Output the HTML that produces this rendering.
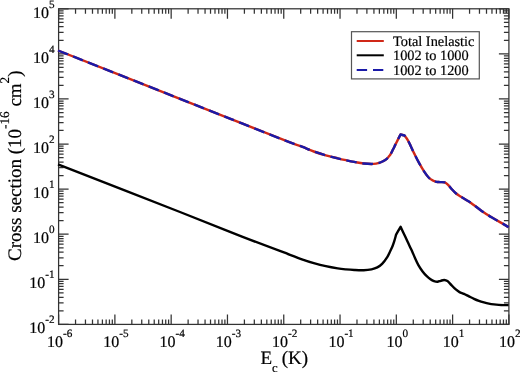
<!DOCTYPE html>
<html><head><meta charset="utf-8"><style>
html,body{margin:0;padding:0;background:#fff;}
svg{display:block;filter:blur(0.3px);}
text{font-family:"Liberation Serif",serif;fill:#000;stroke:#000;stroke-width:0.2px;text-rendering:geometricPrecision;}
</style></head><body>
<svg width="520" height="372" viewBox="0 0 520 372">
<rect x="0" y="0" width="520" height="372" fill="#fff"/>
<g font-size="16">
<text x="59.6" y="346.8" text-anchor="middle">10<tspan font-size="11.2" dy="-10">-6</tspan></text>
<text x="115.89" y="346.8" text-anchor="middle">10<tspan font-size="11.2" dy="-10">-5</tspan></text>
<text x="172.17" y="346.8" text-anchor="middle">10<tspan font-size="11.2" dy="-10">-4</tspan></text>
<text x="228.46" y="346.8" text-anchor="middle">10<tspan font-size="11.2" dy="-10">-3</tspan></text>
<text x="284.75" y="346.8" text-anchor="middle">10<tspan font-size="11.2" dy="-10">-2</tspan></text>
<text x="341.04" y="346.8" text-anchor="middle">10<tspan font-size="11.2" dy="-10">-1</tspan></text>
<text x="397.32" y="346.8" text-anchor="middle">10<tspan font-size="11.2" dy="-10">0</tspan></text>
<text x="453.61" y="346.8" text-anchor="middle">10<tspan font-size="11.2" dy="-10">1</tspan></text>
<text x="509.9" y="346.8" text-anchor="middle">10<tspan font-size="11.2" dy="-10">2</tspan></text>
<text x="54.7" y="332.9" text-anchor="end">10<tspan font-size="11.2" dy="-10">-2</tspan></text>
<text x="54.7" y="287.9" text-anchor="end">10<tspan font-size="11.2" dy="-10">-1</tspan></text>
<text x="54.7" y="242.9" text-anchor="end">10<tspan font-size="11.2" dy="-10">0</tspan></text>
<text x="54.7" y="197.9" text-anchor="end">10<tspan font-size="11.2" dy="-10">1</tspan></text>
<text x="54.7" y="152.9" text-anchor="end">10<tspan font-size="11.2" dy="-10">2</tspan></text>
<text x="54.7" y="107.9" text-anchor="end">10<tspan font-size="11.2" dy="-10">3</tspan></text>
<text x="54.7" y="62.9" text-anchor="end">10<tspan font-size="11.2" dy="-10">4</tspan></text>
<text x="54.7" y="17.9" text-anchor="end">10<tspan font-size="11.2" dy="-10">5</tspan></text>
</g>
<text x="260.5" y="364.2" font-size="19">E<tspan font-size="12.7" dy="7.3">c</tspan><tspan dy="-7.3" dx="-0.8"> (K)</tspan></text>
<text transform="translate(20.5,260.9) rotate(-90)" font-size="19">Cross section (10<tspan font-size="13.2" dy="-12">-16</tspan><tspan dy="12"> cm</tspan><tspan font-size="13.2" dy="-12">2</tspan><tspan dy="12">)</tspan></text>
<g stroke="#333" stroke-width="1.25" fill="none">
<rect x="58.6" y="8.8" width="450.3" height="315.6"/>
<path d="M58.6,8.8 v10 M58.6,324.4 v-10 M75.54,8.8 v5 M75.54,324.4 v-5 M85.46,8.8 v5 M85.46,324.4 v-5 M92.49,8.8 v5 M92.49,324.4 v-5 M97.94,8.8 v5 M97.94,324.4 v-5 M102.4,8.8 v5 M102.4,324.4 v-5 M106.17,8.8 v5 M106.17,324.4 v-5 M109.43,8.8 v5 M109.43,324.4 v-5 M112.31,8.8 v5 M112.31,324.4 v-5 M114.89,8.8 v10 M114.89,324.4 v-10 M131.83,8.8 v5 M131.83,324.4 v-5 M141.74,8.8 v5 M141.74,324.4 v-5 M148.78,8.8 v5 M148.78,324.4 v-5 M154.23,8.8 v5 M154.23,324.4 v-5 M158.69,8.8 v5 M158.69,324.4 v-5 M162.46,8.8 v5 M162.46,324.4 v-5 M165.72,8.8 v5 M165.72,324.4 v-5 M168.6,8.8 v5 M168.6,324.4 v-5 M171.17,8.8 v10 M171.17,324.4 v-10 M188.12,8.8 v5 M188.12,324.4 v-5 M198.03,8.8 v5 M198.03,324.4 v-5 M205.06,8.8 v5 M205.06,324.4 v-5 M210.52,8.8 v5 M210.52,324.4 v-5 M214.98,8.8 v5 M214.98,324.4 v-5 M218.74,8.8 v5 M218.74,324.4 v-5 M222.01,8.8 v5 M222.01,324.4 v-5 M224.89,8.8 v5 M224.89,324.4 v-5 M227.46,8.8 v10 M227.46,324.4 v-10 M244.41,8.8 v5 M244.41,324.4 v-5 M254.32,8.8 v5 M254.32,324.4 v-5 M261.35,8.8 v5 M261.35,324.4 v-5 M266.81,8.8 v5 M266.81,324.4 v-5 M271.26,8.8 v5 M271.26,324.4 v-5 M275.03,8.8 v5 M275.03,324.4 v-5 M278.3,8.8 v5 M278.3,324.4 v-5 M281.17,8.8 v5 M281.17,324.4 v-5 M283.75,8.8 v10 M283.75,324.4 v-10 M300.69,8.8 v5 M300.69,324.4 v-5 M310.61,8.8 v5 M310.61,324.4 v-5 M317.64,8.8 v5 M317.64,324.4 v-5 M323.09,8.8 v5 M323.09,324.4 v-5 M327.55,8.8 v5 M327.55,324.4 v-5 M331.32,8.8 v5 M331.32,324.4 v-5 M334.58,8.8 v5 M334.58,324.4 v-5 M337.46,8.8 v5 M337.46,324.4 v-5 M340.04,8.8 v10 M340.04,324.4 v-10 M356.98,8.8 v5 M356.98,324.4 v-5 M366.89,8.8 v5 M366.89,324.4 v-5 M373.93,8.8 v5 M373.93,324.4 v-5 M379.38,8.8 v5 M379.38,324.4 v-5 M383.84,8.8 v5 M383.84,324.4 v-5 M387.61,8.8 v5 M387.61,324.4 v-5 M390.87,8.8 v5 M390.87,324.4 v-5 M393.75,8.8 v5 M393.75,324.4 v-5 M396.32,8.8 v10 M396.32,324.4 v-10 M413.27,8.8 v5 M413.27,324.4 v-5 M423.18,8.8 v5 M423.18,324.4 v-5 M430.21,8.8 v5 M430.21,324.4 v-5 M435.67,8.8 v5 M435.67,324.4 v-5 M440.13,8.8 v5 M440.13,324.4 v-5 M443.89,8.8 v5 M443.89,324.4 v-5 M447.16,8.8 v5 M447.16,324.4 v-5 M450.04,8.8 v5 M450.04,324.4 v-5 M452.61,8.8 v10 M452.61,324.4 v-10 M469.56,8.8 v5 M469.56,324.4 v-5 M479.47,8.8 v5 M479.47,324.4 v-5 M486.5,8.8 v5 M486.5,324.4 v-5 M491.96,8.8 v5 M491.96,324.4 v-5 M496.41,8.8 v5 M496.41,324.4 v-5 M500.18,8.8 v5 M500.18,324.4 v-5 M503.45,8.8 v5 M503.45,324.4 v-5 M506.32,8.8 v5 M506.32,324.4 v-5 M508.9,8.8 v10 M508.9,324.4 v-10 M58.6,324.4 h10 M508.9,324.4 h-10 M58.6,310.83 h5 M508.9,310.83 h-5 M58.6,302.89 h5 M508.9,302.89 h-5 M58.6,297.26 h5 M508.9,297.26 h-5 M58.6,292.89 h5 M508.9,292.89 h-5 M58.6,289.32 h5 M508.9,289.32 h-5 M58.6,286.3 h5 M508.9,286.3 h-5 M58.6,283.68 h5 M508.9,283.68 h-5 M58.6,281.38 h5 M508.9,281.38 h-5 M58.6,279.31 h10 M508.9,279.31 h-10 M58.6,265.74 h5 M508.9,265.74 h-5 M58.6,257.8 h5 M508.9,257.8 h-5 M58.6,252.17 h5 M508.9,252.17 h-5 M58.6,247.8 h5 M508.9,247.8 h-5 M58.6,244.23 h5 M508.9,244.23 h-5 M58.6,241.21 h5 M508.9,241.21 h-5 M58.6,238.6 h5 M508.9,238.6 h-5 M58.6,236.29 h5 M508.9,236.29 h-5 M58.6,234.23 h10 M508.9,234.23 h-10 M58.6,220.66 h5 M508.9,220.66 h-5 M58.6,212.72 h5 M508.9,212.72 h-5 M58.6,207.08 h5 M508.9,207.08 h-5 M58.6,202.72 h5 M508.9,202.72 h-5 M58.6,199.15 h5 M508.9,199.15 h-5 M58.6,196.13 h5 M508.9,196.13 h-5 M58.6,193.51 h5 M508.9,193.51 h-5 M58.6,191.21 h5 M508.9,191.21 h-5 M58.6,189.14 h10 M508.9,189.14 h-10 M58.6,175.57 h5 M508.9,175.57 h-5 M58.6,167.63 h5 M508.9,167.63 h-5 M58.6,162 h5 M508.9,162 h-5 M58.6,157.63 h5 M508.9,157.63 h-5 M58.6,154.06 h5 M508.9,154.06 h-5 M58.6,151.04 h5 M508.9,151.04 h-5 M58.6,148.43 h5 M508.9,148.43 h-5 M58.6,146.12 h5 M508.9,146.12 h-5 M58.6,144.06 h10 M508.9,144.06 h-10 M58.6,130.48 h5 M508.9,130.48 h-5 M58.6,122.55 h5 M508.9,122.55 h-5 M58.6,116.91 h5 M508.9,116.91 h-5 M58.6,112.54 h5 M508.9,112.54 h-5 M58.6,108.97 h5 M508.9,108.97 h-5 M58.6,105.96 h5 M508.9,105.96 h-5 M58.6,103.34 h5 M508.9,103.34 h-5 M58.6,101.03 h5 M508.9,101.03 h-5 M58.6,98.97 h10 M508.9,98.97 h-10 M58.6,85.4 h5 M508.9,85.4 h-5 M58.6,77.46 h5 M508.9,77.46 h-5 M58.6,71.83 h5 M508.9,71.83 h-5 M58.6,67.46 h5 M508.9,67.46 h-5 M58.6,63.89 h5 M508.9,63.89 h-5 M58.6,60.87 h5 M508.9,60.87 h-5 M58.6,58.25 h5 M508.9,58.25 h-5 M58.6,55.95 h5 M508.9,55.95 h-5 M58.6,53.89 h10 M508.9,53.89 h-10 M58.6,40.31 h5 M508.9,40.31 h-5 M58.6,32.37 h5 M508.9,32.37 h-5 M58.6,26.74 h5 M508.9,26.74 h-5 M58.6,22.37 h5 M508.9,22.37 h-5 M58.6,18.8 h5 M508.9,18.8 h-5 M58.6,15.78 h5 M508.9,15.78 h-5 M58.6,13.17 h5 M508.9,13.17 h-5 M58.6,10.86 h5 M508.9,10.86 h-5 M58.6,8.8 h10 M508.9,8.8 h-10"/>
</g>
<path d="M58,50.5 C78.33,58.55 149.33,86.65 180,98.8 C210.67,110.95 223.67,116.13 242,123.4 C260.33,130.67 280.02,138.52 290,142.4 C299.98,146.28 297.93,145.18 301.9,146.7 C305.87,148.22 309.82,150.07 313.8,151.5 C317.78,152.93 321.82,154.17 325.8,155.3 C329.78,156.43 334.33,157.48 337.7,158.3 C341.07,159.12 343.25,159.6 346,160.2 C348.75,160.8 351.23,161.35 354.2,161.9 C357.17,162.45 360.58,163.17 363.8,163.5 C367.02,163.83 370.93,164 373.5,163.9 C376.07,163.8 377.6,163.35 379.2,162.9 C380.8,162.45 381.83,161.88 383.1,161.2 C384.37,160.52 385.82,159.62 386.8,158.8 C387.78,157.98 388.37,157.07 389,156.3 C389.63,155.53 389.92,155.37 390.6,154.2 C391.28,153.03 392.28,150.93 393.1,149.3 C393.92,147.67 394.7,146.02 395.5,144.4 C396.3,142.78 397.07,141.25 397.9,139.6 C398.73,137.95 400.07,135.35 400.5,134.5 C401.17,134.67 403.83,135.33 404.5,135.5 C405.02,136.22 406.55,138 407.6,139.8 C408.65,141.6 409.67,143.95 410.8,146.3 C411.93,148.65 413.05,151.17 414.4,153.9 C415.75,156.63 417.27,159.75 418.9,162.7 C420.53,165.65 422.5,169.05 424.2,171.6 C425.9,174.15 427.57,176.48 429.1,178 C430.63,179.52 432.17,180.07 433.4,180.7 C434.63,181.33 435.4,181.57 436.5,181.8 C437.6,182.03 438.63,182 440,182.1 C441.37,182.2 443.35,181.95 444.7,182.4 C446.05,182.85 446.87,183.62 448.1,184.8 C449.33,185.98 450.77,188.05 452.1,189.5 C453.43,190.95 454.77,192.38 456.1,193.5 C457.43,194.62 458.53,195.2 460.1,196.2 C461.67,197.2 463.68,198.38 465.5,199.5 C467.32,200.62 468.42,201.08 471,202.9 C473.58,204.72 477.5,207.95 481,210.4 C484.5,212.85 488.32,215.35 492,217.6 C495.68,219.85 500.33,222.3 503.1,223.9 C505.87,225.5 507.68,226.65 508.6,227.2" fill="none" stroke="#d02818" stroke-width="2.4" stroke-linejoin="round"/>
<path d="M58,50.5 C78.33,58.55 149.33,86.65 180,98.8 C210.67,110.95 223.67,116.13 242,123.4 C260.33,130.67 280.02,138.52 290,142.4 C299.98,146.28 297.93,145.18 301.9,146.7 C305.87,148.22 309.82,150.07 313.8,151.5 C317.78,152.93 321.82,154.17 325.8,155.3 C329.78,156.43 334.33,157.48 337.7,158.3 C341.07,159.12 343.25,159.6 346,160.2 C348.75,160.8 351.23,161.35 354.2,161.9 C357.17,162.45 360.58,163.17 363.8,163.5 C367.02,163.83 370.93,164 373.5,163.9 C376.07,163.8 377.6,163.35 379.2,162.9 C380.8,162.45 381.83,161.88 383.1,161.2 C384.37,160.52 385.82,159.62 386.8,158.8 C387.78,157.98 388.37,157.07 389,156.3 C389.63,155.53 389.92,155.37 390.6,154.2 C391.28,153.03 392.28,150.93 393.1,149.3 C393.92,147.67 394.7,146.02 395.5,144.4 C396.3,142.78 397.07,141.25 397.9,139.6 C398.73,137.95 400.07,135.35 400.5,134.5 C401.17,134.67 403.83,135.33 404.5,135.5 C405.02,136.22 406.55,138 407.6,139.8 C408.65,141.6 409.67,143.95 410.8,146.3 C411.93,148.65 413.05,151.17 414.4,153.9 C415.75,156.63 417.27,159.75 418.9,162.7 C420.53,165.65 422.5,169.05 424.2,171.6 C425.9,174.15 427.57,176.48 429.1,178 C430.63,179.52 432.17,180.07 433.4,180.7 C434.63,181.33 435.4,181.57 436.5,181.8 C437.6,182.03 438.63,182 440,182.1 C441.37,182.2 443.35,181.95 444.7,182.4 C446.05,182.85 446.87,183.62 448.1,184.8 C449.33,185.98 450.77,188.05 452.1,189.5 C453.43,190.95 454.77,192.38 456.1,193.5 C457.43,194.62 458.53,195.2 460.1,196.2 C461.67,197.2 463.68,198.38 465.5,199.5 C467.32,200.62 468.42,201.08 471,202.9 C473.58,204.72 477.5,207.95 481,210.4 C484.5,212.85 488.32,215.35 492,217.6 C495.68,219.85 500.33,222.3 503.1,223.9 C505.87,225.5 507.68,226.65 508.6,227.2" fill="none" stroke="#1a1aa8" stroke-width="2.4" stroke-dasharray="10.6 5.65" stroke-linejoin="round"/>
<path d="M58,164.3 C78.33,172.25 149.33,199.95 180,212 C210.67,224.05 223.67,229.47 242,236.6 C260.33,243.73 280.02,251.02 290,254.8 C299.98,258.58 297.93,257.92 301.9,259.3 C305.87,260.68 309.82,261.95 313.8,263.1 C317.78,264.25 321.82,265.32 325.8,266.2 C329.78,267.08 334.33,267.87 337.7,268.4 C341.07,268.93 343.25,269.13 346,269.4 C348.75,269.67 351.23,269.87 354.2,270 C357.17,270.13 360.92,270.32 363.8,270.2 C366.68,270.08 369.25,269.77 371.5,269.3 C373.75,268.83 375.53,268.3 377.3,267.4 C379.07,266.5 380.42,265.67 382.1,263.9 C383.78,262.13 386.03,258.95 387.4,256.8 C388.77,254.65 389.45,252.77 390.3,251 C391.15,249.23 391.85,247.8 392.5,246.2 C393.15,244.6 393.6,243.33 394.2,241.4 C394.8,239.47 395.78,235.73 396.1,234.6 C396.85,233.3 399.85,228.1 400.6,226.8 C400.98,227.62 402.52,230.88 402.9,231.7 C403.28,232.52 404.43,234.97 405.2,236.6 C405.97,238.23 406.73,239.87 407.5,241.5 C408.27,243.13 409.02,244.73 409.8,246.4 C410.58,248.07 411.32,249.53 412.2,251.5 C413.08,253.47 414.07,255.93 415.1,258.2 C416.13,260.47 417.18,262.93 418.4,265.1 C419.62,267.27 421.05,269.4 422.4,271.2 C423.75,273 425.15,274.57 426.5,275.9 C427.85,277.23 429.25,278.33 430.5,279.2 C431.75,280.07 432.85,280.67 434,281.1 C435.15,281.53 436.28,281.85 437.4,281.8 C438.52,281.75 439.57,281.1 440.7,280.8 C441.83,280.5 443.08,279.95 444.2,280 C445.32,280.05 446.2,280.25 447.4,281.1 C448.6,281.95 450.05,283.75 451.4,285.1 C452.75,286.45 454.15,288.03 455.5,289.2 C456.85,290.37 458.08,291.33 459.5,292.1 C460.92,292.87 462.42,293.08 464,293.8 C465.58,294.52 467.33,295.55 469,296.4 C470.67,297.25 472.35,298.15 474,298.9 C475.65,299.65 477.25,300.32 478.9,300.9 C480.55,301.48 482.23,301.95 483.9,302.4 C485.57,302.85 487.23,303.27 488.9,303.6 C490.57,303.93 492.23,304.18 493.9,304.4 C495.57,304.62 497.25,304.78 498.9,304.9 C500.55,305.02 502.18,305.07 503.8,305.1 C505.42,305.13 507.8,305.1 508.6,305.1" fill="none" stroke="#000" stroke-width="2.4" stroke-linejoin="round"/>
<rect x="351.5" y="31.7" width="127.8" height="47.2" fill="none" stroke="#555" stroke-width="1.2"/>
<path d="M356.7,41 H383.8" stroke="#d02818" stroke-width="2"/>
<path d="M356.7,55.3 H383.8" stroke="#000" stroke-width="2"/>
<path d="M356.7,70 H383.3" stroke="#1a1aa8" stroke-width="2" stroke-dasharray="10.4 5.9"/>
<g font-size="14.35">
<text x="393" y="45.5">Total Inelastic</text>
<text x="393" y="60">1002 to 1000</text>
<text x="393" y="74.5">1002 to 1200</text>
</g>
</svg>
</body></html>
